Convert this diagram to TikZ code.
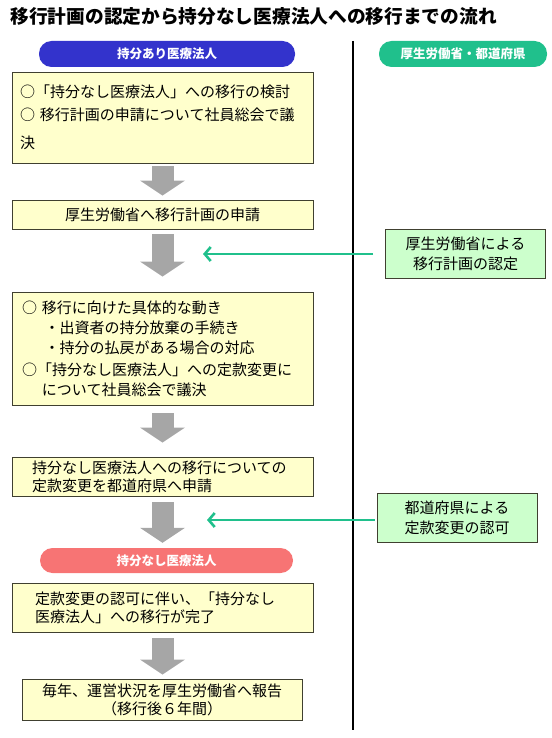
\documentclass[tikz,border=0pt]{standalone}
\usepackage{fontspec}
\setmainfont{Noto Sans CJK JP}
\usetikzlibrary{arrows.meta}

\definecolor{pillblue}{RGB}{51,51,204}
\definecolor{pillgreen}{RGB}{32,192,140}
\definecolor{pillpink}{RGB}{247,116,116}
\definecolor{boxyellow}{RGB}{255,255,204}
\definecolor{boxgreen}{RGB}{204,255,204}
\definecolor{boxline}{RGB}{64,64,48}
\definecolor{arrowgray}{RGB}{166,166,166}

\begin{document}
\begin{tikzpicture}[x=1pt,y=-1pt,
  pill/.style={rounded corners=12.5pt, minimum height=26, inner sep=0, text=white, font=\fontsize{12.5}{14}\selectfont\bfseries},
  stepbox/.style={draw=boxline, line width=0.9pt, fill=boxyellow, inner sep=0, font=\fontsize{15}{18}\selectfont},
  govbox/.style={stepbox, fill=boxgreen, align=center, minimum width=160, minimum height=49, font=\fontsize{15}{20}\selectfont},
  bigarrow/.style={arrowgray, line width=22pt, -{Triangle[width=45pt,length=15pt,line width=0pt]}},
  notice/.style={pillgreen, line width=2.6pt, -{Straight Barb[length=6pt,width=14pt]}}]
\useasboundingbox (0,0) rectangle (551,738);
\node[anchor=west, font=\fontsize{18.7}{20}\selectfont\bfseries] (title) at (7,16) {移行計画の認定から持分なし医療法人への移行までの流れ};
\node[pill, fill=pillblue, minimum width=256] (before) at (167,54) {持分あり医療法人};
\node[pill, fill=pillgreen, minimum width=168] (agency) at (463,54) {厚生労働省・都道府県};
\draw[line width=1.2pt] (353,41) -- (353,730);
\node[stepbox, minimum width=301, minimum height=91, text width=285, align=left, font=\fontsize{15}{23}\selectfont] (review) at (162.5,117.5) {○「持分なし医療法人」への移行の検討\\○ 移行計画の申請について社員総会で議\\[5pt]決};
\node[stepbox, minimum width=301, minimum height=29, align=center] (apply) at (162.5,214.5) {厚生労働省へ移行計画の申請};
\node[stepbox, minimum width=301, minimum height=113, text width=281, align=left, font=\fontsize{15}{20}\selectfont] (steps) at (162.5,348.5) {○ 移行に向けた具体的な動き\\\hspace*{1.5em}・出資者の持分放棄の手続き\\\hspace*{1.5em}・持分の払戻がある場合の対応\\[2pt]○「持分なし医療法人」への定款変更に\\\hspace*{1.33em}について社員総会で議決};
\node[stepbox, minimum width=301, minimum height=39, text width=261, align=left] (amend) at (162.5,476.5) {持分なし医療法人への移行についての\\定款変更を都道府県へ申請};
\node[pill, fill=pillpink, minimum width=253, minimum height=25] (after) at (166.5,560.5) {持分なし医療法人};
\node[stepbox, minimum width=301, minimum height=49, text width=255, align=left] (done) at (162.5,607.5) {定款変更の認可に伴い、「持分なし\\医療法人」への移行が完了};
\node[stepbox, minimum width=280, minimum height=41, align=center] (report) at (162,699.5) {毎年、運営状況を厚生労働省へ報告\\（移行後６年間）};
\node[govbox] (approve) at (465.5,253.5) {厚生労働省による\\移行計画の認定};
\node[govbox] (permit) at (457,517.5) {都道府県による\\定款変更の認可};
\draw[bigarrow, shorten <=3pt, shorten >=4pt] (review.south) -- (review.south |- apply.north);
\draw[bigarrow, shorten <=5pt, shorten >=15pt] (apply.south) -- (apply.south |- steps.north);
\draw[bigarrow, shorten <=8pt, shorten >=14pt] (steps.south) -- (steps.south |- amend.north);
\draw[bigarrow, shorten <=6pt, shorten >=5pt] (amend.south) -- (amend.south |- after.north);
\draw[bigarrow, shorten <=6pt, shorten >=4pt] (done.south) -- (done.south |- report.north);
\coordinate (seen) at (203,254);
\draw[notice, shorten <=12pt] (approve.west |- seen) -- (seen);
\coordinate (granted) at (207,520);
\draw[notice, shorten <=2pt] (permit.west |- granted) -- (granted);
\end{tikzpicture}
\end{document}
